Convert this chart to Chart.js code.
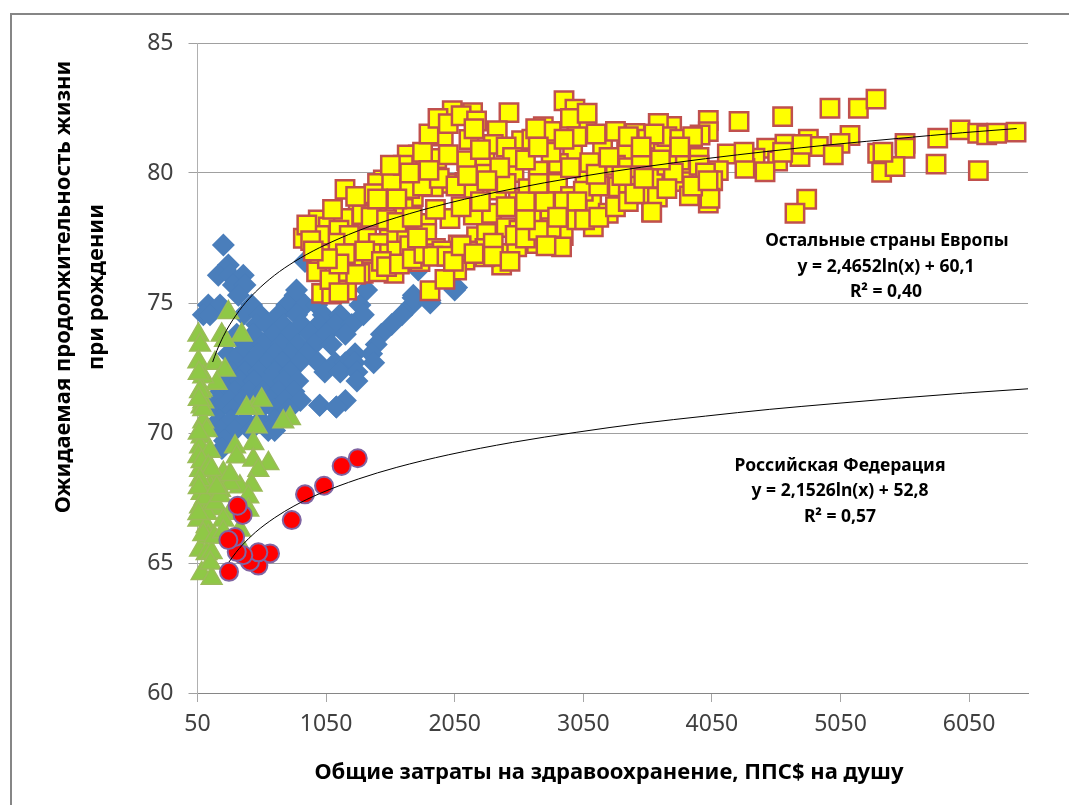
<!DOCTYPE html>
<html lang="ru">
<head>
<meta charset="utf-8">
<title>Ожидаемая продолжительность жизни</title>
<script src="https://cdn.jsdelivr.net/npm/chart.js@4"></script>
<style>
    html, body { margin: 0; padding: 0; background: #fff; overflow: hidden; }
    #wrap { position: relative; width: 1069px; height: 805px; }
    #frame { position: absolute; left: 10px; top: 13px; right: 0; bottom: 0; border-top: 2px solid #868686; border-left: 2px solid #868686; }
    #chart { position: absolute; left: 0; top: 0; }
</style>
</head>
<body>
<div id="wrap">
    <div id="frame"></div>
    <canvas id="chart" width="1069" height="805"></canvas>
</div>
<script>
const xTicks = [50, 1050, 2050, 3050, 4050, 5050, 6050];
const yTicks = [60, 65, 70, 75, 80, 85];

// Российская Федерация
const russiaX = [295, 523, 458, 614, 523, 406, 355, 342, 290, 401, 362, 783, 886, 1034, 1171, 1296];
const russiaY = [64.66, 64.9, 65.05, 65.37, 65.41, 65.3, 65.43, 66.0, 65.88, 66.85, 67.2, 66.65, 67.64, 67.97, 68.73, 69.03];

// green triangles
const greenX = [290, 57, 238, 393, 264, 70, 57, 186, 264, 199, 95, 82, 95, 82, 95, 82, 70, 70, 82, 70, 57, 121, 70, 134, 121, 82, 160,
    484, 432, 549, 510, 769, 717, 484, 342, 355, 484, 601, 523, 251, 186, 471, 380, 303, 225, 147, 445, 199, 121, 303, 445, 251, 380, 355,
    70, 95, 121, 147, 57, 82, 134, 160, 70, 108, 186, 57, 95, 225, 160, 303,
    60, 60, 60, 60, 150, 180, 250, 200];
const greenY = [74.63, 73.77, 73.77, 73.77, 73.57, 73.38, 72.74, 72.68, 72.42, 71.91, 72.16, 71.65, 71.2, 71.01, 70.43, 69.86, 69.47, 68.57, 67.68, 67.16, 66.65, 66.4, 65.5, 66.01, 65.37, 64.6, 64.41,
    70.95, 70.95, 71.27, 70.24, 70.56, 70.43, 69.6, 69.47, 69.09, 68.96, 68.83, 68.57, 68.45, 68.32, 68.0, 67.93, 68.06, 67.8, 67.93, 67.55, 67.1, 66.91, 66.91, 67.04, 66.65, 66.27, 65.88,
    71.6, 70.9, 70.1, 69.3, 69.1, 68.9, 68.7, 68.6, 68.2, 67.5, 67.3, 66.9, 66.1, 67.6, 65.4, 68.4,
    67.9, 70.0, 71.3, 72.3, 65.0, 66.0, 66.2, 67.9];

// Остальные страны Европы
const europeX = [2031, 2189, 2472, 2900, 2985, 3076, 2739, 2381, 2570, 2765, 1961, 2161, 2967, 3200, 3387, 3452, 1767, 1910, 2143, 2285, 1681, 3633,
    1197, 1495, 1637, 1754, 1987, 2130, 2285, 2511, 2700, 3063, 3244, 3633, 1547, 1884, 1728, 2376, 2856, 1443, 1300, 1650, 2545, 2731, 3322, 3607, 3115, 3244, 3581,
    1832, 2013, 2195, 2337, 2648, 2791, 3003, 3128, 989, 873, 1041, 1248, 1067, 1184, 1541, 1676, 1832, 2078, 2220, 2298, 2285, 2415, 2532, 2687, 2894, 2881,
    1300, 1365, 1456, 1650, 1780, 2130, 2065, 2415, 2285, 976, 1197, 1339, 1578, 1456, 1158, 1015, 1093, 1210, 1858, 1974,
    1450, 1420, 1560, 1700, 1800, 1930, 2060, 2200, 2450, 2620, 2850, 2950, 3050, 3170, 3400, 3500, 1330, 1400, 1520, 1600, 1720, 1900, 2100, 2250, 2450, 2600, 2900, 3000,
    1150, 1230, 1120, 1000, 1500, 1600, 1700, 1900, 1950, 2150, 2450, 2350, 2550, 2800, 3000, 1400, 1260, 1200, 1350, 1080, 1280, 1150,
    1650, 1800, 1850, 1920, 2000, 2100, 2220, 2200, 2350, 2450, 2650, 2800, 2680, 2950, 3080, 3150, 3300, 3400, 3550, 3000, 2500, 2600, 2800, 3100, 3300, 3400, 3500, 2000, 2400, 2250, 1550,
    4968, 5189, 5326, 4600, 4261, 4022, 4022, 3737, 3634, 3958, 5124, 4800, 5979, 6117, 6187, 6264, 6415, 5806, 5552, 5552, 4476, 4618, 4878, 5046, 4735, 4994, 5339, 4170, 4385, 4561, 4307, 4463, 4100, 3875, 3789, 3672, 3595, 3828, 4056, 3626, 3875, 4022, 4035, 3582, 4787, 4696, 5370, 5474, 5793, 6122,
    3700, 3600, 3800, 3900, 3950, 3800, 3700, 3950, 4000, 3750, 3650, 4300, 4600, 4750, 3900, 4020, 5380,
    1480, 1520, 1620, 1720, 1810, 1880, 1760, 1990, 2040, 2100, 2200, 2350, 2480, 2520, 2600, 2700, 2760, 2600, 2750, 2850, 3060, 3170, 3300, 3400, 3450, 3700, 3520, 3350, 3150, 2950, 2700, 2300, 2150, 1850, 1700, 1450, 1280, 1100, 900, 930, 1000, 1150, 1060, 950, 1600, 2700, 2900, 3250, 3500, 3800];
const europeY = [82.4, 82.32, 82.32, 82.78, 82.45, 81.91, 81.78, 81.63, 81.24, 81.2, 81.42, 81.29, 80.78, 81.04, 80.82, 81.52, 80.69, 80.56, 80.47, 80.5, 80.69, 81.91,
    79.37, 79.73, 79.79, 79.88, 79.6, 79.64, 79.95, 80.02, 80.07, 79.83, 79.99, 79.79, 79.47, 79.47, 79.09, 79.34, 80.37, 78.77, 78.7, 78.64, 79.02, 79.28, 79.47, 79.09, 78.83, 78.45, 78.51,
    78.06, 78.25, 78.38, 78.45, 78.38, 78.55, 78.55, 77.93, 78.19, 77.49, 77.23, 78.19, 77.93, 78.25, 77.45, 77.52, 77.68, 77.23, 77.55, 77.68, 77.1, 76.91, 77.16, 77.29, 77.59, 77.16,
    77.55, 77.49, 77.29, 76.78, 76.59, 76.65, 76.27, 76.46, 76.78, 76.2, 76.08, 76.14, 76.14, 76.2, 75.88, 75.37, 75.34, 75.5, 75.47, 75.91,
    79.6, 79.2, 79.7, 79.4, 79.5, 79.8, 79.5, 79.2, 79.6, 79.4, 79.6, 79.1, 79.3, 79.5, 79.6, 79.2, 78.4, 78.3, 78.2, 78.1, 78.3, 78.6, 78.7, 78.9, 78.7, 78.9, 78.9, 78.9,
    77.8, 77.6, 77.3, 77.6, 76.9, 77.0, 77.2, 77.1, 77.0, 77.0, 77.9, 77.3, 77.8, 77.9, 78.2, 76.9, 76.7, 76.9, 77.0, 75.9, 76.1, 75.4,
    80.3, 80.8, 81.5, 82.1, 81.9, 82.2, 82.0, 81.7, 81.1, 81.0, 81.3, 81.6, 81.7, 82.1, 82.3, 81.5, 81.6, 81.4, 81.3, 81.4, 80.6, 80.5, 80.8, 80.4, 80.3, 80.2, 80.6, 80.7, 80.2, 80.9, 80.3,
    82.49, 82.49, 82.84, 82.17, 81.98, 82.02, 81.59, 81.79, 81.91, 81.46, 81.44, 81.3, 81.66, 81.53, 81.47, 81.53, 81.57, 81.34, 81.14, 80.95, 80.95, 81.11, 81.02, 81.14, 80.63, 80.7, 80.76, 80.73, 80.57, 80.46, 80.18, 80.05, 80.09, 79.99, 80.82, 80.76, 79.8, 79.67, 79.7, 79.07, 79.12, 78.84, 79.03, 78.49, 78.99, 78.45, 80.03, 80.25, 80.34, 80.09,
    81.4, 81.5, 81.3, 81.4, 80.6, 80.5, 80.3, 80.3, 80.0, 80.0, 80.5, 80.8, 80.8, 81.1, 79.5, 79.7, 80.8,
    76.6, 76.4, 76.5, 76.7, 76.9, 76.8, 77.5, 76.8, 76.6, 77.2, 76.9, 76.8, 76.6, 77.6, 77.5, 77.8, 77.2, 78.2, 78.9, 78.3, 78.2, 78.3, 78.7, 78.9, 79.2, 79.4, 79.8, 79.9, 79.95, 80.2, 79.6, 79.7, 79.9, 80.1, 80.0, 79.0, 79.1, 78.6, 78.0, 77.4, 76.9, 76.5, 76.7, 77.0, 79.0, 81.0, 81.3, 80.6, 81.0, 81.0];

// blue diamonds, mostly one solid blob
const blueX = [251, 290, 265, 212, 303, 406, 329, 419, 368, 808, 134, 225, 471, 744, 886, 977, 1313, 1715, 2050, 2065, 1858, 1728,
    95, 147, 406, 536, 680, 821, 1028, 1158, 1340, 1640, 510, 588, 717, 860, 990, 1120, 1250, 1560, 355, 484, 640, 770, 925, 1050, 1200, 1480,
    420, 560, 700, 830, 960, 1090, 1440, 290, 380, 520, 650, 770, 900, 1404, 1275, 355, 460, 590, 710, 840, 990, 1120, 1200, 1270, 1420,
    315, 420, 530, 650, 770, 1040, 1160, 1290, 270, 380, 490, 610, 720, 830, 1290, 230, 340, 450, 560, 680, 800,
    210, 300, 400, 510, 620, 730, 850, 1000, 1130, 1200, 215, 320, 430, 540, 650, 760, 1000, 1130, 215, 310, 420, 540, 650, 230, 340, 460, 600, 650, 260, 240,
    2378, 1765, 925, 1270, 1726, 1860, 820, 886, 1236, 1767, 1365];
const blueY = [77.23, 76.46, 76.3, 76.07, 76.07, 76.07, 75.69, 75.69, 75.3, 75.3, 74.92, 74.92, 74.92, 74.92, 74.92, 74.92, 74.92, 74.92, 75.5, 75.6, 75.1, 75.3,
    74.55, 74.55, 74.55, 74.55, 74.55, 74.55, 74.55, 74.55, 74.55, 74.55, 74.17, 74.17, 74.17, 74.17, 74.17, 74.17, 74.17, 74.17, 73.8, 73.8, 73.8, 73.8, 73.8, 73.8, 73.8, 73.8,
    73.4, 73.4, 73.4, 73.4, 73.4, 73.4, 73.4, 73.05, 73.05, 73.05, 73.05, 73.05, 73.05, 73.05, 73.05, 72.7, 72.7, 72.7, 72.7, 72.7, 72.7, 72.7, 72.7, 72.7, 72.7,
    72.35, 72.35, 72.35, 72.35, 72.35, 72.35, 72.35, 72.35, 72.0, 72.0, 72.0, 72.0, 72.0, 72.0, 72.0, 71.6, 71.6, 71.6, 71.6, 71.6, 71.6,
    71.25, 71.25, 71.25, 71.25, 71.25, 71.25, 71.25, 71.07, 71.0, 71.25, 70.9, 70.9, 70.9, 70.9, 70.9, 70.9, 71.07, 71.0, 70.5, 70.5, 70.5, 70.5, 70.5, 70.1, 70.1, 70.1, 70.1, 70.1, 69.7, 69.4,
    80.0, 76.3, 76.65, 76.65, 75.2, 75.0, 75.5, 76.6, 76.65, 76.27, 75.5];

// trend lines
const europeTrendX = [168, 200, 250, 300, 400, 500, 650, 800, 1000, 1300, 1600, 2000, 2500, 3000, 3500, 4000, 4500, 5000, 5500, 6000, 6420];
const europeTrendY = [72.73, 73.16, 73.71, 74.16, 74.87, 75.42, 76.07, 76.58, 77.13, 77.78, 78.29, 78.84, 79.39, 79.84, 80.22, 80.55, 80.84, 81.1, 81.33, 81.55, 81.71];
const russiaTrendX = [295, 350, 400, 500, 650, 800, 1000, 1300, 1600, 2000, 2500, 3000, 3500, 4000, 4500, 5000, 5500, 6000, 6508];
const russiaTrendY = [65.04, 65.41, 65.7, 66.18, 66.74, 67.19, 67.67, 68.23, 68.68, 69.16, 69.64, 70.03, 70.37, 70.65, 70.91, 71.13, 71.34, 71.53, 71.7];

const fontName = '"Noto Sans", "Open Sans", sans-serif';

function toPoints(xs, ys)
{
    return xs.map((x, i) => ({ x: x, y: ys[i] }));
}

function trendDataset(xs, ys)
{
    return {
        data: toPoints(xs, ys),
        showLine: true,
        borderColor: "#000",
        borderWidth: 1,
        pointRadius: 0,
        cubicInterpolationMode: "monotone",
        order: 0,
    };
}

// axis titles and the text next to the trend lines
const notesPlugin = {
    id: "notes",
    afterDraw(chart) {
        const ctx = chart.ctx;
        ctx.save();
        ctx.fillStyle = "#000";
        ctx.textAlign = "center";
        ctx.textBaseline = "middle";

        ctx.font = "bold 17.5px " + fontName;
        ctx.fillText("Остальные страны Европы", 887, 241);
        ctx.fillText("y = 2,4652ln(x) + 60,1", 886, 267);
        ctx.fillText("R² = 0,40", 886, 292);
        ctx.fillText("Российская Федерация", 840, 466);
        ctx.fillText("y = 2,1526ln(x) + 52,8", 840, 491);
        ctx.fillText("R² = 0,57", 840, 517);

        ctx.font = "bold 22px " + fontName;
        ctx.fillText("Общие затраты на здравоохранение, ППС$ на душу", 609, 773);

        ctx.translate(64, 287);
        ctx.rotate(-Math.PI / 2);
        ctx.fillText("Ожидаемая продолжительность жизни", 0, 0);
        ctx.fillText("при рождении", 0, 33);
        ctx.restore();
    },
};

new Chart(document.getElementById("chart"), {
    type: "scatter",
    data: {
        datasets: [
            trendDataset(europeTrendX, europeTrendY),
            trendDataset(russiaTrendX, russiaTrendY),
            {
                data: toPoints(russiaX, russiaY),
                pointStyle: "circle",
                pointRadius: 9,
                pointBackgroundColor: "#FF0000",
                pointBorderColor: "#8064A2",
                pointBorderWidth: 2,
                clip: false,
                order: 1,
            },
            {
                data: toPoints(europeX, europeY),
                pointStyle: "rect",
                pointRadius: 13,
                pointBackgroundColor: "#FFFF00",
                pointBorderColor: "#C0504D",
                pointBorderWidth: 2.5,
                clip: false,
                order: 2,
            },
            {
                data: toPoints(greenX, greenY),
                pointStyle: "triangle",
                pointRadius: 12,
                pointBackgroundColor: "#8FC846",
                pointBorderColor: "#9BBB59",
                pointBorderWidth: 1.5,
                clip: false,
                order: 3,
            },
            {
                data: toPoints(blueX, blueY),
                pointStyle: "rectRot",
                pointRadius: 11.5,
                pointBackgroundColor: "#4A7EBB",
                pointBorderColor: "#4A7EBB",
                pointBorderWidth: 0,
                clip: false,
                order: 4,
            },
        ],
    },
    options: {
        responsive: false,
        animation: false,
        layout: { padding: { left: 47, top: 43, right: 41, bottom: 0 } },
        plugins: { legend: { display: false }, tooltip: { enabled: false } },
        scales: {
            x: {
                type: "linear",
                min: 50,
                max: 6508,
                afterBuildTicks: (scale) => { scale.ticks = xTicks.map((v) => ({ value: v })); },
                afterFit: (scale) => { scale.height = 112; },
                grid: { drawOnChartArea: false, color: "#A6A6A6", tickLength: 9 },
                border: { color: "#868686" },
                ticks: {
                    color: "#404040",
                    font: { family: fontName, size: 23 },
                    maxRotation: 0,
                    padding: 9,
                    callback: (v) => String(v),
                },
            },
            y: {
                min: 60,
                max: 85,
                afterBuildTicks: (scale) => { scale.ticks = yTicks.map((v) => ({ value: v })); },
                afterFit: (scale) => { scale.width = 150.5; },
                grid: { color: "#A0A0A0", tickLength: 9 },
                border: { color: "#B0B0B0" },
                ticks: { color: "#404040", font: { family: fontName, size: 23 }, padding: 15 },
            },
        },
    },
    plugins: [notesPlugin],
});
</script>
</body>
</html>
